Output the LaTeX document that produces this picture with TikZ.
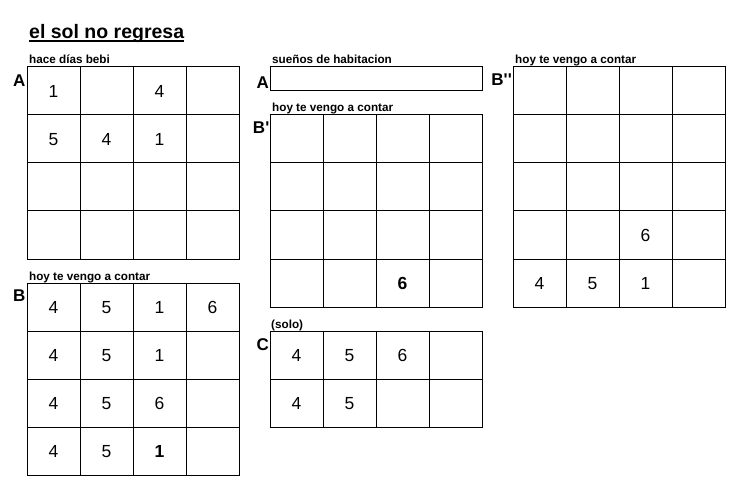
\documentclass[tikz,border=0pt]{standalone}
\usepackage{fontspec}
\setmainfont{Liberation Sans}
\newfontfamily\plainsans{Liberation Sans}[Ligatures=TeXOff]
\tikzset{
  cell/.style={draw, line width=1pt, minimum width=53pt, minimum height=48pt, inner sep=0pt, outer sep=0pt},
  widebox/.style={draw, line width=1pt, minimum width=212pt, minimum height=24pt, inner sep=0pt, outer sep=0pt},
  num/.style={inner sep=0pt, text height=12.5pt, text depth=0pt, font=\fontsize{17.5}{20}\selectfont},
  bnum/.style={num, font=\fontsize{17.5}{20}\selectfont\bfseries},
  gridcaption/.style={inner sep=0pt, anchor=base west, font=\fontsize{11.7}{13}\selectfont\bfseries},
  biglabel/.style={inner sep=0pt, anchor=base east, font=\plainsans\fontsize{17}{19}\selectfont\bfseries},
  ttl/.style={inner sep=0pt, anchor=base west, font=\fontsize{19.5}{22}\selectfont\bfseries}
}
\newcommand\mkgrid[5]{%
  \foreach \r in {1,...,#4}{\foreach \c in {1,...,#5}{%
    \node[cell] (#1-\r-\c) at ({#2+26.5+53*(\c-1)},{#3+24+48*(\r-1)}) {};}}}
\begin{document}
\begin{tikzpicture}[x=1pt,y=-1pt]
\useasboundingbox (0,0) rectangle (752,489);
% title
\node[ttl] (title) at (29,39) {el sol no regresa};
\draw[line width=1.5pt] ([yshift=-2pt]title.base west) -- ([yshift=-2pt]title.base east);
% grid A
\mkgrid{ga}{27}{67}{4}{4}
\node[gridcaption] (ga-cap) at (29,64) {hace días bebi};
\node[biglabel] (ga-lab) at ([xshift=-1.5pt,yshift=-20pt]ga-1-1.north west) {A};
\node[num] at (ga-1-1) {1};
\node[num] at (ga-1-3) {4};
\node[num] at (ga-2-1) {5};
\node[num] at (ga-2-2) {4};
\node[num] at (ga-2-3) {1};
% grid B
\mkgrid{gb}{27}{283}{4}{4}
\node[gridcaption] (gb-cap) at (29,280) {hoy te vengo a contar};
\node[biglabel] (gb-lab) at ([xshift=-1.5pt,yshift=-18.5pt]gb-1-1.north west) {B};
\node[num] at (gb-1-1) {4};
\node[num] at (gb-1-2) {5};
\node[num] at (gb-1-3) {1};
\node[num] at (gb-1-4) {6};
\node[num] at (gb-2-1) {4};
\node[num] at (gb-2-2) {5};
\node[num] at (gb-2-3) {1};
\node[num] at (gb-3-1) {4};
\node[num] at (gb-3-2) {5};
\node[num] at (gb-3-3) {6};
\node[num] at (gb-4-1) {4};
\node[num] at (gb-4-2) {5};
\node[bnum] at (gb-4-3) {1};
% wide box A
\node[widebox] (wa) at (376,79) {};
\node[gridcaption] (wa-cap) at (272,64) {sueños de habitacion};
\node[biglabel] (wa-lab) at ([xshift=-1pt,yshift=-22pt]wa.north west) {A};
% grid B'
\mkgrid{gbp}{270}{115}{4}{4}
\node[gridcaption] (gbp-cap) at (272,112) {hoy te vengo a contar};
\node[biglabel] (gbp-lab) at ([xshift=-0.5pt,yshift=-19pt]gbp-1-1.north west) {B'};
\node[bnum] at (gbp-4-3) {6};
% grid C
\mkgrid{gc}{270}{331}{2}{4}
\node[gridcaption] (gc-cap) at (271,328) {(solo)};
\node[biglabel] (gc-lab) at ([xshift=-1pt,yshift=-19.5pt]gc-1-1.north west) {C};
\node[num] at (gc-1-1) {4};
\node[num] at (gc-1-2) {5};
\node[num] at (gc-1-3) {6};
\node[num] at (gc-2-1) {4};
\node[num] at (gc-2-2) {5};
% grid B''
\mkgrid{gbb}{513}{67}{5}{4}
\node[gridcaption] (gbb-cap) at (515,64) {hoy te vengo a contar};
\node[biglabel] (gbb-lab) at ([xshift=-1pt,yshift=-18.5pt]gbb-1-1.north west) {B''};
\node[num] at (gbb-4-3) {6};
\node[num] at (gbb-5-1) {4};
\node[num] at (gbb-5-2) {5};
\node[num] at (gbb-5-3) {1};
\end{tikzpicture}
\end{document}
